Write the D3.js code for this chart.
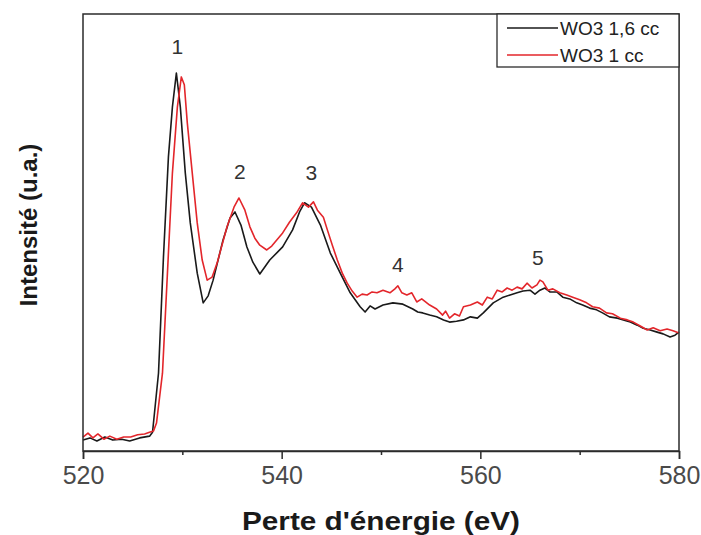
<!DOCTYPE html>
<html><head><meta charset="utf-8">
<script src="https://cdn.jsdelivr.net/npm/d3@7"></script>
<style>body{margin:0;background:#fff}svg{display:block}text{font-family:"Liberation Sans",Arial,sans-serif}</style>
</head><body><div id="chart"></div>
<script>
const xTicks = [520, 540, 560, 580];
const xMinorTicks = [530, 550, 570];
const seriesNames = ["WO3 1,6 cc", "WO3 1 cc"];
const seriesColors = ["#1a1a1a", "#e3262b"];
const peakLabels = ["1", "2", "3", "4", "5"];
const peakLabelPos = [[529.5, 90.8], [535.8, 62.2], [543.0, 62.0], [551.7, 41.0], [565.8, 42.6]];

const energy16 = [520.0,520.7,521.4,522.2,523.0,523.9,524.7,525.7,526.7,527.0,527.6,528.1,528.6,529.0,529.4,529.8,530.3,530.8,531.5,532.1,532.6,533.1,534.1,534.8,535.3,535.9,536.5,537.1,537.8,538.3,538.8,540.1,541.1,541.8,542.3,543.0,543.9,544.9,545.9,546.9,547.9,548.4,548.9,549.4,550.2,551.2,552.2,553.2,553.7,554.2,554.9,555.6,556.3,556.9,557.6,558.3,559.0,559.7,560.3,561.3,562.3,563.0,563.7,564.3,565.0,565.5,566.0,566.5,567.0,567.7,568.3,569.0,569.7,570.3,571.0,571.7,572.3,573.0,573.8,574.4,575.1,575.8,576.4,577.1,577.8,578.4,579.1,579.6,580.0];
const intensity16 = [2.5,3.0,2.3,3.2,2.5,2.7,2.3,3.0,3.4,4.3,17.8,44.4,67.3,78.7,86.5,78.7,63.6,52.2,40.7,33.9,35.5,39.1,48.3,53.3,54.7,51.7,46.7,43.2,40.5,42.1,43.7,46.7,50.6,54.7,56.8,55.8,51.7,45.3,40.7,36.2,33.0,31.8,33.2,32.5,33.4,33.9,33.6,32.5,31.8,31.6,31.1,30.7,30.0,29.5,29.7,30.0,30.7,30.4,31.6,33.9,35.2,35.7,36.2,36.6,36.8,35.9,36.8,37.3,36.4,36.4,35.2,34.8,33.9,33.4,32.7,32.3,31.6,30.7,30.4,30.0,29.5,28.8,28.1,27.7,27.2,26.8,26.1,26.5,27.2];

const energy1 = [520.0,520.5,521.0,521.5,522.1,522.7,523.4,524.1,524.8,525.5,526.2,526.7,527.1,527.4,528.0,528.5,529.0,529.5,529.9,530.2,530.5,531.0,531.5,532.0,532.5,533.0,533.5,534.5,535.2,535.7,536.3,536.8,537.3,537.8,538.5,539.0,540.1,540.8,541.5,542.1,542.7,543.2,543.6,544.2,544.6,545.1,545.6,546.1,546.6,547.1,547.6,548.1,548.6,549.1,549.6,550.2,550.9,551.4,551.7,552.1,552.6,553.1,553.6,554.1,554.9,555.6,556.2,556.5,556.9,557.4,557.9,558.3,559.0,559.7,560.2,560.7,561.2,561.7,562.2,562.7,563.2,563.7,564.2,564.7,565.2,565.7,566.0,566.3,566.8,567.3,568.0,568.7,569.3,570.0,570.7,571.3,572.0,572.7,573.3,574.1,574.8,575.4,576.1,576.8,577.4,578.1,578.8,579.4,580.0];
const intensity1 = [3.2,4.1,3.0,3.9,2.7,3.4,2.7,3.2,3.2,3.7,3.9,4.3,4.6,6.4,17.8,40.7,63.6,78.7,85.6,83.8,75.1,63.6,52.2,43.7,39.1,39.8,43.0,51.3,55.8,57.9,55.1,51.3,48.7,47.1,46.0,46.9,49.9,52.4,54.5,56.8,55.8,57.0,55.1,53.5,50.6,47.1,43.7,40.7,38.4,36.6,35.2,35.9,35.7,36.4,36.2,36.8,36.2,37.1,37.8,36.2,35.7,36.2,34.1,34.8,33.4,32.5,31.1,32.0,30.4,31.4,30.9,33.0,33.4,34.1,33.4,35.2,34.8,36.8,36.4,37.3,36.8,37.5,37.1,38.4,37.3,38.0,39.1,38.7,36.8,37.1,36.2,35.7,35.2,34.6,33.9,33.0,32.7,31.6,31.4,30.4,30.0,29.5,28.6,27.7,28.2,27.5,27.9,27.5,27.0];

const W = 701, H = 535;
const m = {left: 83, right: 22, top: 14, bottom: 84};
const svg = d3.select("#chart").append("svg").attr("width", W).attr("height", H);
const x = d3.scaleLinear().domain([520, 580]).range([m.left, W - m.right]);
const y = d3.scaleLinear().domain([0, 100]).range([H - m.bottom, m.top]);

const series = [
  {name: seriesNames[0], color: seriesColors[0], pts: energy16.map((e, i) => [e, intensity16[i]])},
  {name: seriesNames[1], color: seriesColors[1], pts: energy1.map((e, i) => [e, intensity1[i]])}
];
const line = d3.line().x(d => x(d[0])).y(d => y(d[1]));
series.forEach(s => {
  svg.append("path").attr("d", line(s.pts)).attr("fill", "none")
    .attr("stroke", s.color).attr("stroke-width", 1.6).attr("stroke-linejoin", "round");
});

// frame
const axColor = "#2b2b2b";
svg.append("rect").attr("x", x(520)).attr("y", y(100)).attr("width", x(580) - x(520)).attr("height", y(0) - y(100))
  .attr("fill", "none").attr("stroke", axColor).attr("stroke-width", 1.5);

// x axis
const xAxis = svg.append("g").attr("transform", `translate(0,${y(0)})`)
  .call(d3.axisBottom(x).tickValues(xTicks).tickSize(8).tickFormat(d3.format("d")));
xAxis.select(".domain").attr("stroke", axColor).attr("stroke-width", 1.5);
xAxis.selectAll(".tick line").attr("stroke", axColor).attr("stroke-width", 1.5);
xAxis.selectAll(".tick text").attr("font-size", 25).attr("fill", "#4a4a4a").attr("y", 33).attr("dy", 0)
  .attr("font-family", "'Liberation Sans', Arial, sans-serif");
const xMinor = svg.append("g").attr("transform", `translate(0,${y(0)})`)
  .call(d3.axisBottom(x).tickValues(xMinorTicks).tickSize(4).tickFormat(""));
xMinor.select(".domain").remove();
xMinor.selectAll(".tick line").attr("stroke", axColor).attr("stroke-width", 1.5);

// axis titles
svg.append("text").attr("x", 242).attr("y", 530)
  .attr("textLength", 278).attr("lengthAdjust", "spacingAndGlyphs")
  .attr("font-size", 25).attr("font-weight", "bold").attr("fill", "#1a1a1a").text("Perte d'énergie (eV)");
svg.append("text").attr("transform", `translate(37,225) rotate(-90)`).attr("text-anchor", "middle")
  .attr("font-size", 24).attr("font-weight", "bold").attr("fill", "#1a1a1a").text("Intensité (u.a.)");

// peak labels
peakLabels.forEach((t, i) => {
  svg.append("text").attr("x", x(peakLabelPos[i][0])).attr("y", y(peakLabelPos[i][1]))
    .attr("text-anchor", "middle").attr("font-size", 21).attr("fill", "#333").text(t);
});

// legend
const lg = svg.append("g");
lg.append("rect").attr("x", 497).attr("y", 14).attr("width", 182).attr("height", 53)
  .attr("fill", "#fff").attr("stroke", axColor).attr("stroke-width", 1.3);
series.forEach((s, i) => {
  const ly = 28 + i * 27;
  lg.append("line").attr("x1", 507).attr("x2", 558).attr("y1", ly).attr("y2", ly)
    .attr("stroke", s.color).attr("stroke-width", 1.6);
  lg.append("text").attr("x", 560).attr("y", ly + 7).attr("font-size", 19).attr("fill", "#222").text(s.name);
});
</script></body></html>
